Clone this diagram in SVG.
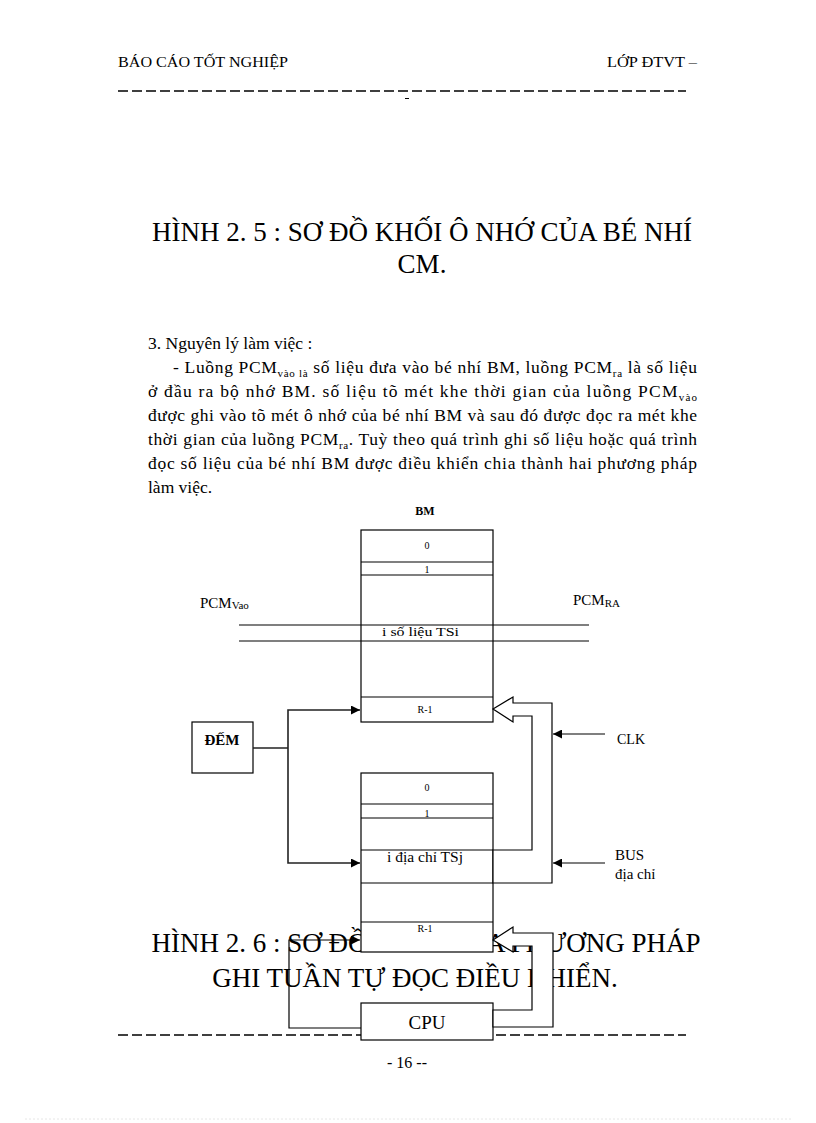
<svg xmlns="http://www.w3.org/2000/svg" width="816" height="1123" viewBox="0 0 816 1123">
<defs>
<style>
.t{font-family:"Liberation Serif","Times New Roman",serif;fill:#000}
.ln{stroke:#000;stroke-width:1.2;fill:none}
.cn{stroke:#222;stroke-width:1.6;fill:none}
.box{fill:#fff;stroke:#000;stroke-width:1.2}
.dash{stroke:#000;stroke-width:1.3;stroke-dasharray:10 4}
.sm{font-size:10px}
</style>
<marker id="ah" viewBox="0 0 10 10" refX="10" refY="5" markerWidth="9" markerHeight="9" markerUnits="userSpaceOnUse" orient="auto">
<path d="M0,0 L10,5 L0,10 Z" fill="#000"/>
</marker>
</defs>
<rect width="816" height="1123" fill="#fff"/>

<g id="header">
<text class="t" x="118" y="67" font-size="14" textLength="170" lengthAdjust="spacingAndGlyphs">BÁO CÁO TỐT NGHIỆP</text>
<text class="t" x="607" y="67" font-size="14" textLength="90" lengthAdjust="spacingAndGlyphs">LỚP ĐTVT –</text>
<line class="dash" x1="118" y1="91" x2="686" y2="91"/>
<line x1="405" y1="98.5" x2="409" y2="98.5" stroke="#000" stroke-width="1"/>
</g>

<g id="title1">
<text class="t" x="422" y="241" font-size="27" text-anchor="middle">HÌNH 2. 5 : SƠ ĐỒ KHỐI Ô NHỚ CỦA BÉ NHÍ</text>
<text class="t" x="422" y="273" font-size="27" text-anchor="middle">CM.</text>
</g>

<g id="paragraph" font-size="17.5">
<text class="t" x="148" y="349">3. Nguyên lý làm việc :</text>
<text class="t" x="173" y="373" textLength="524" lengthAdjust="spacing">- Luồng PCM<tspan font-size="11" dy="4">vào là</tspan><tspan dy="-4"> số liệu  đưa vào bé nhí BM, luồng PCM</tspan><tspan font-size="11" dy="4">ra</tspan><tspan dy="-4"> là số liệu</tspan></text>
<text class="t" x="148" y="397" textLength="549" lengthAdjust="spacing">ở đầu ra bộ nhớ BM. số liệu  tõ mét khe thời gian của luồng PCM<tspan font-size="11" dy="4">vào</tspan></text>
<text class="t" x="148" y="421" textLength="549" lengthAdjust="spacing">được ghi vào tõ mét ô nhớ của bé nhí BM và sau đó được đọc ra mét khe</text>
<text class="t" x="148" y="445" textLength="549" lengthAdjust="spacing">thời gian của luồng PCM<tspan font-size="11" dy="4">ra</tspan><tspan dy="-4">. Tuỳ theo quá trình ghi số liệu hoặc quá trình</tspan></text>
<text class="t" x="148" y="469" textLength="549" lengthAdjust="spacing">đọc số liệu  của bé nhí BM được điều khiển  chia thành hai phương pháp</text>
<text class="t" x="148" y="493">làm việc.</text>
</g>

<g id="title2">
<text class="t" x="426" y="952" font-size="27" text-anchor="middle">HÌNH 2. 6 : SƠ ĐỒ KHỐI CỦA PHƯƠNG PHÁP</text>
<text class="t" x="415" y="987" font-size="27" text-anchor="middle">GHI TUẦN TỰ ĐỌC ĐIỀU KHIỂN.</text>
</g>

<g id="footer">
<line class="dash" x1="118" y1="1035" x2="686" y2="1035"/>
<text class="t" x="407" y="1068" font-size="16" text-anchor="middle">- 16 --</text>
<line x1="25" y1="1119" x2="791" y2="1119" stroke="#e6e6e6" stroke-width="1" stroke-dasharray="2 2"/>
</g>

<g id="bm-label">
<text class="t" x="425" y="515" font-size="12" font-weight="bold" text-anchor="middle">BM</text>
</g>

<g id="pcm-labels">
<text class="t" x="200" y="608" font-size="15">PCM<tspan font-size="11" dy="1">Vao</tspan></text>
<text class="t" x="573" y="605" font-size="15">PCM<tspan font-size="11" dy="2">RA</tspan></text>
</g>

<g id="memory-bm">
<rect class="box" x="361" y="530" width="132" height="192"/>
<line class="ln" x1="361" y1="562" x2="493" y2="562" stroke-width="1.6"/>
<line class="ln" x1="361" y1="575" x2="493" y2="575"/>
<line class="ln" x1="361" y1="697" x2="493" y2="697" stroke-width="1.6"/>
<text class="t sm" x="427" y="549" text-anchor="middle">0</text>
<text class="t sm" x="427" y="573" text-anchor="middle">1</text>
<text class="t" x="382" y="636" font-size="12" textLength="77" lengthAdjust="spacingAndGlyphs">i số liệu TSi</text>
<text class="t sm" x="425" y="713" text-anchor="middle">R-1</text>
</g>

<g id="pcm-lines">
<line class="ln" x1="239" y1="625" x2="589" y2="625"/>
<line class="ln" x1="239" y1="641" x2="589" y2="641"/>
</g>

<g id="dem">
<rect class="box" x="192" y="722" width="61" height="51"/>
<text class="t" x="222" y="745" font-size="15" font-weight="bold" text-anchor="middle">ĐẾM</text>
</g>

<g id="memory-cm">
<rect class="box" x="361" y="773" width="132" height="179"/>
<line class="ln" x1="361" y1="804" x2="493" y2="804"/>
<line class="ln" x1="361" y1="818" x2="493" y2="818"/>
<line class="ln" x1="361" y1="922" x2="493" y2="922"/>
<text class="t sm" x="427" y="791" text-anchor="middle">0</text>
<text class="t sm" x="427" y="817" text-anchor="middle">1</text>
<text class="t" x="387" y="862" font-size="14" textLength="76" lengthAdjust="spacingAndGlyphs">i địa chỉ TSj</text>
<text class="t sm" x="425" y="932" text-anchor="middle">R-1</text>
</g>

<g id="cpu">
<rect class="box" x="361" y="1003" width="132" height="37"/>
<text class="t" x="427" y="1029" font-size="19" text-anchor="middle">CPU</text>
</g>

<g id="connectors">
<polygon points="493,709 513,697 513,703 552,703 552,883 493,883 493,850 532,850 532,716 513,716 513,722" fill="#fff" stroke="#000" stroke-width="1.2"/>
<line class="ln" x1="361" y1="850" x2="493" y2="850"/>
<line class="ln" x1="361" y1="883" x2="493" y2="883"/>
<polygon points="493,940 513,927 513,933 553,933 553,1027 493,1027 493,1010 532,1010 532,946 513,946 513,952" fill="#fff" stroke="#000" stroke-width="1.2"/>
<polyline class="cn" points="253,748 288,748"/>
<polyline class="cn" points="288,748 288,710 360,710" marker-end="url(#ah)"/>
<polyline class="cn" points="288,748 288,863 360,863" marker-end="url(#ah)"/>
<polyline class="ln" points="361,1028 289,1028 289,940 360,940" marker-end="url(#ah)"/>
<line class="ln" x1="605" y1="734" x2="553" y2="734" marker-end="url(#ah)"/>
<line class="ln" x1="605" y1="863" x2="553" y2="863" marker-end="url(#ah)"/>
</g>

<g id="side-labels">
<text class="t" x="617" y="744" font-size="14">CLK</text>
<text class="t" x="615" y="860" font-size="15">BUS</text>
<text class="t" x="615" y="879" font-size="15">địa chỉ</text>
</g>
</svg>
